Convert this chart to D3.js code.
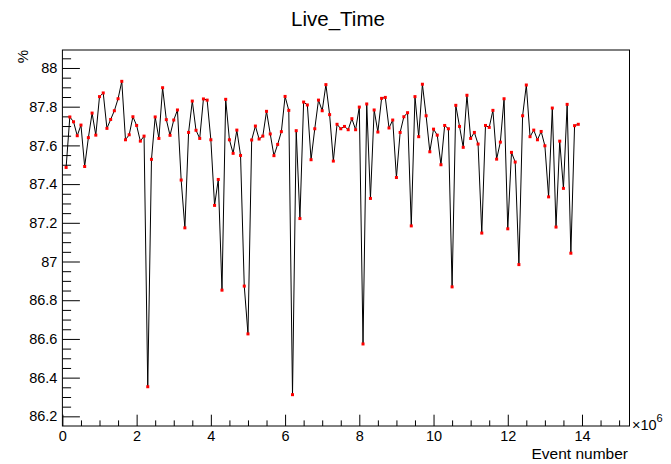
<!DOCTYPE html>
<html>
<head>
<meta charset="utf-8">
<script src="https://cdn.jsdelivr.net/npm/d3@7"></script>
<style>
  html, body { margin: 0; padding: 0; background: #fff; }
  svg { display: block; font-family: "Liberation Sans", Arial, Helvetica, sans-serif; }
</style>
</head>
<body>
<svg id="chart" width="671" height="464"></svg>
<script>
// Live time per 100k-event block (x in units of 10^6 events, y in %)
const eventNumber = d3.range(1, 140).map(i => i / 10);
const liveTime = [
  87.486, 87.747, 87.722, 87.650, 87.705, 87.491, 87.640, 87.767, 87.653, 87.852,
  87.871, 87.688, 87.734, 87.779, 87.841, 87.931, 87.629, 87.655, 87.748, 87.703,
  87.622, 87.648, 86.353, 87.528, 87.747, 87.636, 87.898, 87.733, 87.652, 87.731,
  87.783, 87.421, 87.174, 87.667, 87.829, 87.678, 87.636, 87.840, 87.834, 87.629,
  87.290, 87.424, 86.852, 87.838, 87.629, 87.559, 87.679, 87.548, 86.873, 86.626,
  87.628, 87.700, 87.633, 87.648, 87.776, 87.659, 87.547, 87.605, 87.671, 87.853,
  87.781, 86.312, 87.676, 87.222, 87.824, 87.809, 87.526, 87.686, 87.834, 87.779,
  87.914, 87.759, 87.519, 87.709, 87.686, 87.698, 87.681, 87.738, 87.681, 87.798,
  86.574, 87.814, 87.326, 87.783, 87.669, 87.843, 87.848, 87.690, 87.731, 87.434,
  87.667, 87.748, 87.769, 87.184, 87.852, 87.645, 87.916, 87.753, 87.567, 87.684,
  87.653, 87.500, 87.703, 87.686, 86.869, 87.807, 87.698, 87.590, 87.859, 87.636,
  87.667, 87.607, 87.147, 87.703, 87.693, 87.781, 87.529, 87.617, 87.841, 87.169,
  87.564, 87.514, 86.984, 87.753, 87.912, 87.645, 87.679, 87.629, 87.672, 87.598,
  87.334, 87.793, 87.178, 87.622, 87.378, 87.812, 87.043, 87.702, 87.709
];
const xMajorTicks = [0, 2, 4, 6, 8, 10, 12, 14];
const yMajorTicks = [86.2, 86.4, 86.6, 86.8, 87, 87.2, 87.4, 87.6, 87.8, 88];

const titleText = "Live_Time";
const xTitle = "Event number";
const yTitle = "%";

const frame = { left: 62.4, right: 629.5, top: 50, bottom: 426 };

// Axis ranges follow the usual 10% padding around the data extent
const xMax = eventNumber[eventNumber.length - 1] + 0.1 * (eventNumber[eventNumber.length - 1] - eventNumber[0]);
const yLo = d3.min(liveTime), yHi = d3.max(liveTime);
const yPad = 0.1 * (yHi - yLo);

const x = d3.scaleLinear().domain([0, xMax]).range([frame.left, frame.right]);
const y = d3.scaleLinear().domain([yLo - yPad, yHi + yPad]).range([frame.bottom, frame.top]);

const svg = d3.select("#chart");

const xMinorTicks = d3.range(0, xMax, 0.5).filter(v => !xMajorTicks.some(m => Math.abs(m - v) < 1e-9));
const yMinorTicks = d3.range(86.15, y.domain()[1], 0.05)
  .filter(v => v >= y.domain()[0] && !yMajorTicks.some(m => Math.abs(m - v) < 1e-6));

const majorLenX = 11.3, minorLenX = 5.6;
const majorLenY = 17.5, minorLenY = 8.7;

// x axis: ticks pointing into the frame
const gx = svg.append("g").attr("transform", `translate(0,${frame.bottom})`);
gx.call(d3.axisBottom(x).tickValues(xMajorTicks).tickSize(-majorLenX).tickPadding(3)
  .tickFormat(d3.format("d")));
svg.append("g").attr("transform", `translate(0,${frame.bottom})`)
  .call(d3.axisBottom(x).tickValues(xMinorTicks).tickSize(-minorLenX).tickFormat(""))
  .call(g => g.select(".domain").remove());

// y axis
const gy = svg.append("g").attr("transform", `translate(${frame.left},0)`);
gy.call(d3.axisLeft(y).tickValues(yMajorTicks).tickSize(-majorLenY).tickPadding(5)
  .tickFormat(d => d3.format("~g")(d)));
svg.append("g").attr("transform", `translate(${frame.left},0)`)
  .call(d3.axisLeft(y).tickValues(yMinorTicks).tickSize(-minorLenY).tickFormat(""))
  .call(g => g.select(".domain").remove());

svg.selectAll(".domain").remove();
svg.selectAll(".tick line").attr("stroke", "#000").attr("stroke-width", 1);
svg.selectAll(".tick text").attr("fill", "#000").attr("font-size", 14.5)
  .attr("font-family", "\"Liberation Sans\", Arial, Helvetica, sans-serif");
gx.selectAll(".tick text").attr("dy", "0.8em");

// frame
svg.append("rect")
  .attr("x", frame.left).attr("y", frame.top)
  .attr("width", frame.right - frame.left).attr("height", frame.bottom - frame.top)
  .attr("fill", "none").attr("stroke", "#000").attr("stroke-width", 1);

// data line and markers
const line = d3.line().x((d, i) => x(eventNumber[i])).y(d => y(d));
svg.append("path").datum(liveTime)
  .attr("d", line).attr("fill", "none").attr("stroke", "#000").attr("stroke-width", 1);

svg.append("g").selectAll("rect").data(liveTime).join("rect")
  .attr("x", (d, i) => x(eventNumber[i]) - 1.5)
  .attr("y", d => y(d) - 1.5)
  .attr("width", 3).attr("height", 3)
  .attr("fill", "#ff0000");

// titles
svg.append("text").attr("x", 338).attr("y", 26).attr("text-anchor", "middle")
  .attr("font-size", 20.5).attr("fill", "#000").text(titleText);

svg.append("text").attr("x", 628).attr("y", 459).attr("text-anchor", "end")
  .attr("font-size", 15.5).attr("fill", "#000").text(xTitle);

svg.append("text").attr("transform", "translate(28,50) rotate(-90)")
  .attr("text-anchor", "end").attr("font-size", 15).attr("fill", "#000").text(yTitle);

// exponent label for the x axis
const expo = svg.append("text").attr("x", 632).attr("y", 430)
  .attr("font-size", 14.5).attr("fill", "#000");
expo.append("tspan").text("\u00d710");
expo.append("tspan").attr("dy", -8).attr("font-size", 11).text("6");
</script>
</body>
</html>
